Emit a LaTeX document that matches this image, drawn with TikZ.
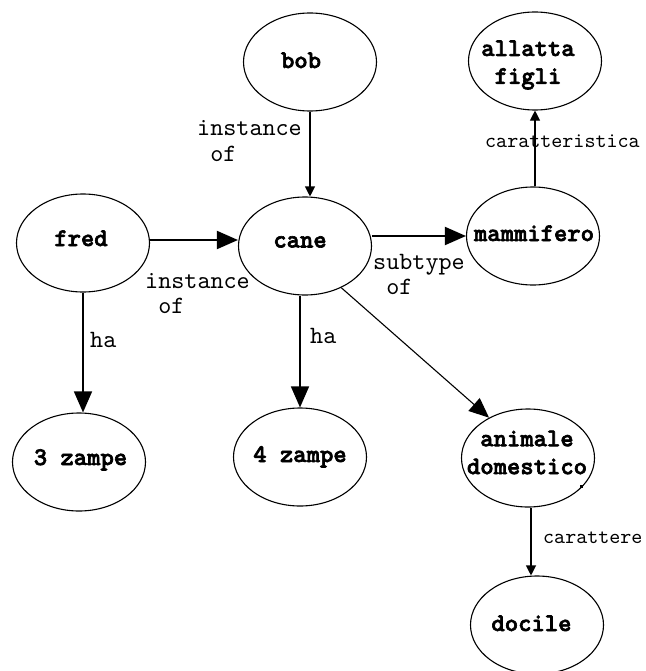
\documentclass[tikz,border=0pt]{standalone}
\usepackage{fontspec}
\newfontfamily\cbf{lmmonolt10-bold.otf}[FakeBold=2.5]
\newfontfamily\cmono{lmmono10-regular.otf}
\usetikzlibrary{arrows.meta,shapes.geometric}
\begin{document}
\begin{tikzpicture}[x=1bp,y=-1bp,
 ell/.style={draw, ellipse, minimum width=133bp, minimum height=98bp, inner sep=0pt, line width=1.1bp},
 nt/.style={font=\cbf\fontsize{25.5}{28}\selectfont, inner sep=0pt, align=center},
 lb/.style={font=\cmono\fontsize{25}{26}\selectfont, inner sep=0pt, align=left},
 sl/.style={font=\cmono\fontsize{21.1}{22}\selectfont, inner sep=0pt},
 sarrow/.style={line width=1.1bp, -{Triangle[length=10bp,width=10bp]}},
 barrow/.style={line width=1.4bp, -{Triangle[length=21bp,width=18bp]}},
 tarrow/.style={line width=1.9bp, -{Triangle[length=21bp,width=18bp]}},
 darrow/.style={line width=1.1bp, -{Triangle[length=20bp,width=17bp]}},
]
\useasboundingbox (0,0) rectangle (646,671);
\clip (0,0) rectangle (646,671);

% ellipses
\node[ell] (bob) at (310,62) {};
\node[ell] (allatta) at (535,61) {};
\node[ell] (fred) at (83,243) {};
\node[ell] (cane) at (305,246) {};
\node[ell] (mammifero) at (533,236) {};
\node[ell] (z3) at (79,462) {};
\node[ell] (z4) at (300,457) {};
\node[ell] (animale) at (528,458) {};
\node[ell] (docile) at (537,625) {};

% texts in ellipses
\node[nt, anchor=base] (bobt) at (301,68) {bob};
\node[nt] (allattat) at (528,65) {allatta\\figli};
\node[nt, anchor=base] (fredt) at (81,246) {fred};
\node[nt, anchor=base] (canet) at (300,247.5) {cane};
\node[nt, anchor=base] (mammiferot) at (534,241) {mammifero};
\node[nt, anchor=base] (z3t) at (80.5,465) {3 zampe};
\node[nt, anchor=base] (z4t) at (300,462) {4 zampe};
\node[nt] (animalet) at (527,452.5) {animale\\domestico};
\node[nt, anchor=base] (docilet) at (531.5,631) {docile};

% connectors
\draw[sarrow] (bob.south) -- (bob.south |- cane.north);
\draw[tarrow] (fred.east |- 0,240) -- (cane.west |- 0,240);
\draw[tarrow] (mammifero.west -| cane.east) -- (mammifero.west);
\draw[sarrow] (allatta.south |- mammifero.north) -- (allatta.south);
\draw[barrow] (fred.south) -- (fred.south |- z3.north);
\draw[barrow] (z4.north |- cane.south) -- (z4.north);
\draw[darrow] (cane.-49) -- (animale.134);
\draw[sarrow] (animale.south) ++(3,0) coordinate (as) -- (as |- docile.north);

% connector labels
\node[lb, anchor=west] (l1) at (197,141) {instance\\\phantom{x}of};
\node[lb, anchor=west] (l2) at (145,293.5) {instance\\\phantom{x}of};
\node[lb, anchor=west] (l3) at (373,274.5) {subtype\\\phantom{x}of};
\node[sl, anchor=base west] (l4) at (485,147) {caratteristica};
\node[lb, anchor=base west] (l5) at (90,347) {ha};
\node[lb, anchor=base west] (l6) at (310,343) {ha};
\node[sl, anchor=base west] (l7) at (543,543) {carattere};

% small dot
\fill (580,485) rectangle (582.5,487.5);
\end{tikzpicture}
\end{document}
